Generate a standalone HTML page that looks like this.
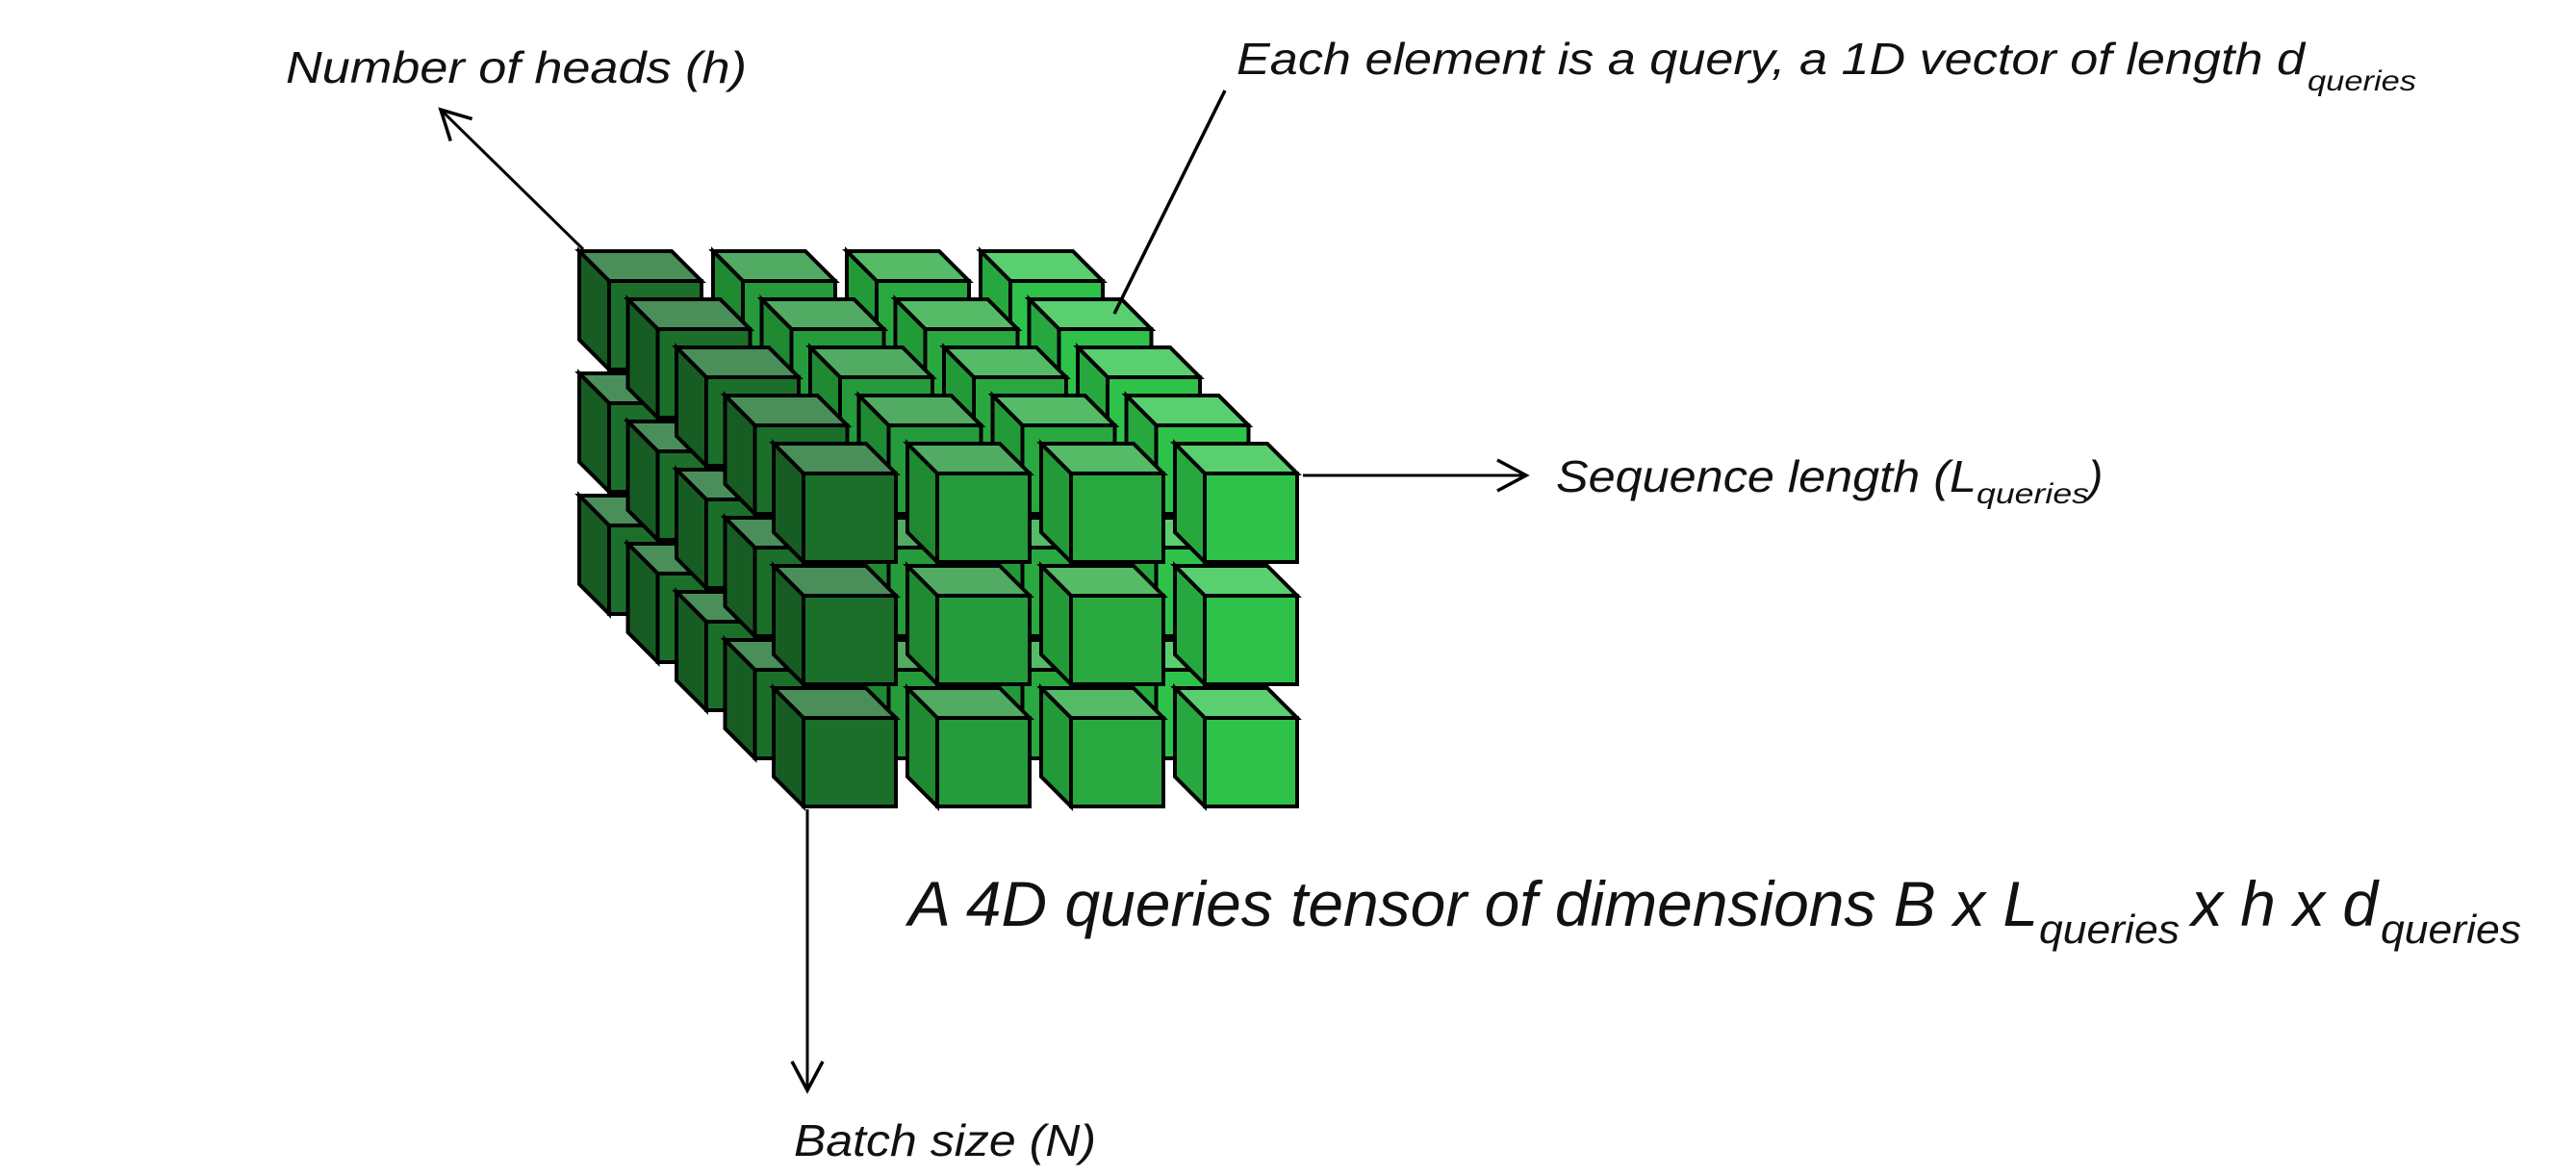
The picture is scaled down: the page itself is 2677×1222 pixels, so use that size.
<!DOCTYPE html>
<html><head><meta charset="utf-8"><style>
html,body{margin:0;padding:0;background:#fff;}
svg{display:block;}
text{font-family:"Liberation Sans",sans-serif;font-style:italic;fill:#111;}
</style></head><body>
<svg id="fig" width="2677" height="1222" viewBox="0 0 2677 1222" xmlns="http://www.w3.org/2000/svg">
<defs>
<marker id="ah2" markerWidth="40" markerHeight="40" refX="34" refY="20" orient="auto" markerUnits="userSpaceOnUse" viewBox="0 0 40 40">
<path d="M4,4 L34,20 L4,36" fill="none" stroke="#000" stroke-width="3.5"/>
</marker>
</defs>
<g id="cubes"></g>
<line x1="606" y1="259" x2="458" y2="114" stroke="#000" stroke-width="3" marker-end="url(#ah2)"/>
<line x1="1354" y1="494" x2="1586" y2="494" stroke="#000" stroke-width="3" marker-end="url(#ah2)"/>
<line x1="839" y1="841" x2="839" y2="1133" stroke="#000" stroke-width="3" marker-end="url(#ah2)"/>
<line x1="1273" y1="94" x2="1158" y2="326" stroke="#000" stroke-width="3.5"/>

<text x="297" y="86" font-size="46" textLength="479" lengthAdjust="spacingAndGlyphs">Number of heads (h)</text>
<text x="1285" y="77" font-size="46" textLength="1110" lengthAdjust="spacingAndGlyphs">Each element is a query, a 1D vector of length d</text>
<text x="2398" y="94" font-size="30" textLength="113" lengthAdjust="spacingAndGlyphs">queries</text>
<text x="1617" y="511" font-size="46" textLength="437" lengthAdjust="spacingAndGlyphs">Sequence length (L</text>
<text x="2054" y="523" font-size="30" textLength="117" lengthAdjust="spacingAndGlyphs">queries</text>
<text x="2170" y="511" font-size="46">)</text>
<text x="944" y="962" font-size="66" textLength="1174" lengthAdjust="spacingAndGlyphs">A 4D queries tensor of dimensions B x L</text>
<text x="2119" y="980" font-size="42" textLength="146" lengthAdjust="spacingAndGlyphs">queries</text>
<text x="2277" y="962" font-size="66" textLength="194" lengthAdjust="spacingAndGlyphs">x h x d</text>
<text x="2474" y="980" font-size="42" textLength="146" lengthAdjust="spacingAndGlyphs">queries</text>
<text x="825" y="1201" font-size="46" textLength="314" lengthAdjust="spacingAndGlyphs">Batch size (N)</text>
</svg>
<script>
// data: tensor shape shown (heads layers, sequence columns, batch rows)
const headLayers = [0, 1, 2, 3, 4];
const seqColumns = [0, 1, 2, 3];
const batchRows = [0, 1, 2];
const frontColors = ['#1b6f2b', '#259b3b', '#29a840', '#2fc24a'];
const sideColors = ['#165c23', '#1f8a32', '#239a38', '#27a83e'];
const topColors = ['#4a8f5a', '#52ab62', '#55bb66', '#5acf70'];

const NS = 'http://www.w3.org/2000/svg';
const g = document.getElementById('cubes');
const ox = 835, oy = 492, colStep = 139, rowStep = 127, layerDx = 50.5, layerDy = 50;
const fw = 96, fh = 92, dx = 31, dy = 31;
function poly(pts, fill, name) {
  const p = document.createElementNS(NS, 'polygon');
  p.setAttribute('points', pts.map(a => a.join(',')).join(' '));
  p.setAttribute('fill', fill);
  p.setAttribute('stroke', '#000');
  p.setAttribute('stroke-width', '4');
  
  
  return p;
}
for (let li = headLayers.length - 1; li >= 0; li--) {
  const L = headLayers[li];
  for (const r of batchRows) {
    for (const c of seqColumns) {
      const x = ox + c * colStep - L * layerDx;
      const y = oy + r * rowStep - L * layerDy;
      const cube = document.createElementNS(NS, 'g');
      
      
      cube.appendChild(poly([[x, y], [x + fw, y], [x + fw - dx, y - dy], [x - dx, y - dy]], topColors[c], 'cube-top-face'));
      cube.appendChild(poly([[x, y], [x - dx, y - dy], [x - dx, y + fh - dy], [x, y + fh]], sideColors[c], 'cube-side-face'));
      cube.appendChild(poly([[x, y], [x + fw, y], [x + fw, y + fh], [x, y + fh]], frontColors[c], 'cube-front-face'));
      g.appendChild(cube);
    }
  }
}
</script>
</body></html>
